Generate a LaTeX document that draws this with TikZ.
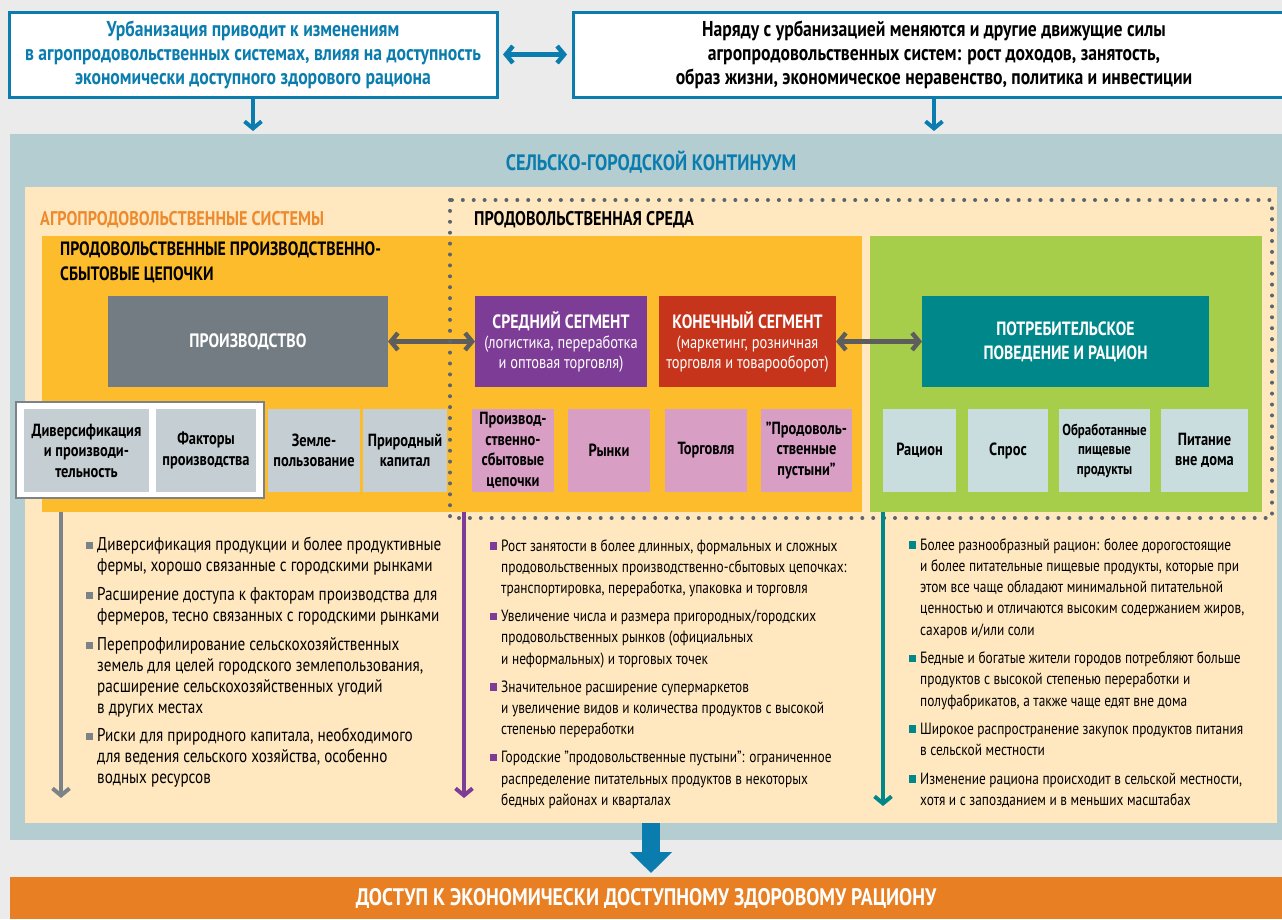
\documentclass[tikz,border=0pt]{standalone}
\usepackage{fontspec}
\setmainfont{PT Sans}[FakeStretch=0.82]
\usetikzlibrary{arrows.meta}

\definecolor{bg}{HTML}{EBEBEB}
\definecolor{fao}{HTML}{0A7DAE}
\definecolor{contin}{HTML}{B3CDD1}
\definecolor{cream}{HTML}{FFE8BF}
\definecolor{agro}{HTML}{EE8A2E}
\definecolor{chainy}{HTML}{FDBC2B}
\definecolor{consg}{HTML}{A7CE4B}
\definecolor{prodgray}{HTML}{737B83}
\definecolor{midpurple}{HTML}{7D3C96}
\definecolor{endred}{HTML}{C6341B}
\definecolor{consteal}{HTML}{00878A}
\definecolor{tilegray}{HTML}{C5CED3}
\definecolor{tilepink}{HTML}{D89EC4}
\definecolor{tileblue}{HTML}{C9DDDF}
\definecolor{arrowgray}{HTML}{5D5D5D}
\definecolor{dotgray}{HTML}{5A6570}
\definecolor{colgray}{HTML}{7B8389}
\definecolor{outorange}{HTML}{E88023}

\newcommand{\sq}[1]{\llap{\textcolor{#1}{\rule[1.5pt]{7.5pt}{7.5pt}}\hspace{4pt}}}

\tikzset{
  panel/.style={anchor=north west, inner sep=0pt, outer sep=0pt},
  tile/.style={anchor=north west, inner sep=0pt, outer sep=0pt, align=center,
    font=\bfseries\fontsize{17.6}{20.5}\selectfont},
  bigbox/.style={anchor=north west, inner sep=0pt, outer sep=0pt, align=center,
    text=white, minimum height=91pt},
  hdr/.style={anchor=west, inner sep=0pt, font=\bfseries\fontsize{19.8}{25}\selectfont},
  bullets/.style={anchor=north west, inner sep=0pt, align=left},
  barb/.tip={Straight Barb[length=7pt,width=17pt]},
  blueline/.style={draw=fao, line width=3pt},
  twoway/.style={line width=4.5pt, barb-barb},
  downarrow/.style={line width=4pt, -barb},
}

\begin{document}
\begin{tikzpicture}[x=1pt, y=-1pt]
\fill[bg] (0,0) rectangle (1282,919);
\useasboundingbox (0,0) rectangle (1282,919);

% --- drivers on top ---
\node[panel, blueline, fill=white, minimum width=488pt, minimum height=85pt,
      align=center, text=fao, font=\bfseries\fontsize{21.5}{24}\selectfont]
  (urb) at (9,12) {Урбанизация приводит к изменениям\\
  в агропродовольственных системах, влияя на доступность\\
  экономически доступного здорового рациона};
\node[panel, blueline, fill=white, minimum width=730pt, minimum height=85pt] (drv) at (573,12) {};
\node[align=center, font=\bfseries\fontsize{21.5}{24}\selectfont, inner sep=0pt]
  (drvtext) at (934,54.5) {Наряду с урбанизацией меняются и другие движущие силы\\
  агропродовольственных систем: рост доходов, занятость,\\
  образ жизни, экономическое неравенство, политика и инвестиции};
\draw[fao, twoway] ([xshift=6pt]urb.east) -- ([xshift=-6pt]drv.west |- urb.east);

% --- rural-urban continuum ---
\node[panel, fill=contin, minimum width=1272pt, minimum height=706pt] (cont) at (10,134) {};
\draw[fao, downarrow, shorten >=3pt] (urb.south) -- (urb.south |- cont.north);
\draw[fao, downarrow, shorten >=3pt] (drv.south -| drvtext.south) -- (drvtext.south |- cont.north);
\node[text=fao, font=\bfseries\fontsize{22.3}{26}\selectfont, inner sep=0pt] (conttitle) at (651,162)
  {СЕЛЬСКО-ГОРОДСКОЙ КОНТИНУУМ};

\node[panel, fill=cream, minimum width=1252pt, minimum height=636pt] (cream) at (25,187) {};

\node[hdr, text=agro] (agrotitle) at (40,220) {АГРОПРОДОВОЛЬСТВЕННЫЕ СИСТЕМЫ};
\node[hdr] (envtitle) at (474,220) {ПРОДОВОЛЬСТВЕННАЯ СРЕДА};

% --- supply chains and consumer panels ---
\node[panel, fill=chainy, minimum width=820pt, minimum height=276pt] (chains) at (42,236) {};
\node[panel, fill=consg, minimum width=392pt, minimum height=276pt] (consumer) at (870,236) {};
\node[anchor=north west, inner sep=0pt, align=left, font=\bfseries\fontsize{19.3}{25}\selectfont]
  (chaintitle) at (60,242) {ПРОДОВОЛЬСТВЕННЫЕ ПРОИЗВОДСТВЕННО-\\СБЫТОВЫЕ ЦЕПОЧКИ};

\node[bigbox, fill=prodgray, minimum width=280pt, font=\bfseries\fontsize{19.4}{23}\selectfont]
  (prod) at (108,296) {ПРОИЗВОДСТВО};
\node[bigbox, fill=midpurple, minimum width=172pt, font=\fontsize{17.6}{20}\selectfont]
  (mid) at (475,296) {{\bfseries\fontsize{19.3}{20}\selectfont СРЕДНИЙ СЕГМЕНТ}\\
  (логистика, переработка\\и оптовая торговля)};
\node[bigbox, fill=endred, minimum width=177pt, font=\fontsize{17.6}{20}\selectfont]
  (end) at (659,296) {{\bfseries\fontsize{19.3}{20}\selectfont КОНЕЧНЫЙ СЕГМЕНТ}\\
  (маркетинг, розничная\\торговля и товарооборот)};
\node[bigbox, fill=consteal, minimum width=287pt, font=\bfseries\fontsize{19.2}{24}\selectfont]
  (cons) at (922,296) {ПОТРЕБИТЕЛЬСКОЕ\\ПОВЕДЕНИЕ И РАЦИОН};

\draw[arrowgray, twoway] (prod.east) -- (mid.west);
\draw[arrowgray, twoway] (end.east) -- (cons.west);

% --- tiles ---
\node[panel, fill=white, draw=colgray, line width=1.5pt, minimum width=248pt, minimum height=96pt]
  (framed) at (16,402) {};
\node[tile, fill=tilegray, minimum width=125pt, minimum height=83pt] (t1) at (24,409)
  {Диверсификация\\и производи-\\тельность};
\node[tile, fill=tilegray, minimum width=100pt, minimum height=83pt] (t2) at (156,409)
  {Факторы\\производства};
\node[tile, fill=tilegray, minimum width=92pt, minimum height=83pt] (t3) at (268,409)
  {Земле-\\пользование};
\node[tile, fill=tilegray, minimum width=84pt, minimum height=83pt] (t4) at (363,409)
  {Природный\\капитал};

\node[tile, fill=tilepink, minimum width=82pt, minimum height=83pt] (t5) at (472,409)
  {Производ-\\ственно-\\сбытовые\\цепочки};
\node[tile, fill=tilepink, minimum width=82pt, minimum height=83pt] (t6) at (568,409) {Рынки};
\node[tile, fill=tilepink, minimum width=82pt, minimum height=83pt] (t7) at (665,409) {Торговля};
\node[tile, fill=tilepink, minimum width=91pt, minimum height=83pt] (t8) at (761,409)
  {"Продоволь-\\ственные\\пустыни"};

\node[tile, fill=tileblue, minimum width=73pt, minimum height=83pt] (t9) at (883,409) {Рацион};
\node[tile, fill=tileblue, minimum width=80pt, minimum height=83pt] (t10) at (968,409) {Спрос};
\node[tile, fill=tileblue, minimum width=91pt, minimum height=83pt,
      font=\bfseries\fontsize{15.8}{19.5}\selectfont] (t11) at (1059,409)
  {Обработанные\\пищевые\\продукты};
\node[tile, fill=tileblue, minimum width=87pt, minimum height=83pt] (t12) at (1161,409)
  {Питание\\вне дома};

% --- food environment boundary ---
\draw[dotgray, line width=4pt, line cap=round, dash pattern=on 0pt off 10.9pt]
  (450,200) rectangle (1272,518);

% --- outcome arrows ---
\coordinate (endL) at (61,798);
\coordinate (endM) at (464,798);
\coordinate (endR) at (883,806);
\draw[colgray, downarrow] (chains.south -| endL) -- (endL);
\draw[midpurple, downarrow] (chains.south -| endM) -- (endM);
\draw[consteal, downarrow] (consumer.south -| endR) -- (endR);

\node[bullets, font=\fontsize{18.5}{21}\selectfont] (listL) at (97,537) {%
\sq{colgray}Диверсификация продукции и более продуктивные\\
фермы, хорошо связанные с городскими рынками\\[8pt]
\sq{colgray}Расширение доступа к факторам производства для\\
фермеров, тесно связанных с городскими рынками\\[8pt]
\sq{colgray}Перепрофилирование сельскохозяйственных\\
земель для целей городского землепользования,\\
расширение сельскохозяйственных угодий\\
в других местах\\[7pt]
\sq{colgray}Риски для природного капитала, необходимого\\
для ведения сельского хозяйства, особенно\\
водных ресурсов};

\node[bullets, font=\fontsize{16.3}{21.2}\selectfont] (listM) at (501,539) {%
\sq{midpurple}Рост занятости в более длинных, формальных и сложных\\
продовольственных производственно-сбытовых цепочках:\\
транспортировка, переработка, упаковка и торговля\\[7pt]
\sq{midpurple}Увеличение числа и размера пригородных/городских\\
продовольственных рынков (официальных\\
и неформальных) и торговых точек\\[7pt]
\sq{midpurple}Значительное расширение супермаркетов\\
и увеличение видов и количества продуктов с высокой\\
степенью переработки\\[7pt]
\sq{midpurple}Городские "продовольственные пустыни": ограниченное\\
распределение питательных продуктов в некоторых\\
бедных районах и кварталах};

\node[bullets, font=\fontsize{16.3}{21.3}\selectfont] (listR) at (920,538) {%
\sq{consteal}Более разнообразный рацион: более дорогостоящие\\
и более питательные пищевые продукты, которые при\\
этом все чаще обладают минимальной питательной\\
ценностью и отличаются высоким содержанием жиров,\\
сахаров и/или соли\\[7pt]
\sq{consteal}Бедные и богатые жители городов потребляют больше\\
продуктов с высокой степенью переработки и\\
полуфабрикатов, а также чаще едят вне дома\\[7pt]
\sq{consteal}Широкое распространение закупок продуктов питания\\
в сельской местности\\[7pt]
\sq{consteal}Изменение рациона происходит в сельской местности,\\
хотя и с запозданием и в меньших масштабах};

% --- outcome ---
\node[panel, fill=outorange, minimum width=1272pt, minimum height=42pt, text=white,
      font=\bfseries\fontsize{23.9}{26}\selectfont] (outcome) at (10,877)
  {ДОСТУП К ЭКОНОМИЧЕСКИ ДОСТУПНОМУ ЗДОРОВОМУ РАЦИОНУ};
\draw[fao, line width=18pt, -{Triangle[length=21pt,width=41pt]}, shorten >=4pt]
  (cream.south) -- (cream.south |- outcome.north);
\end{tikzpicture}
\end{document}
